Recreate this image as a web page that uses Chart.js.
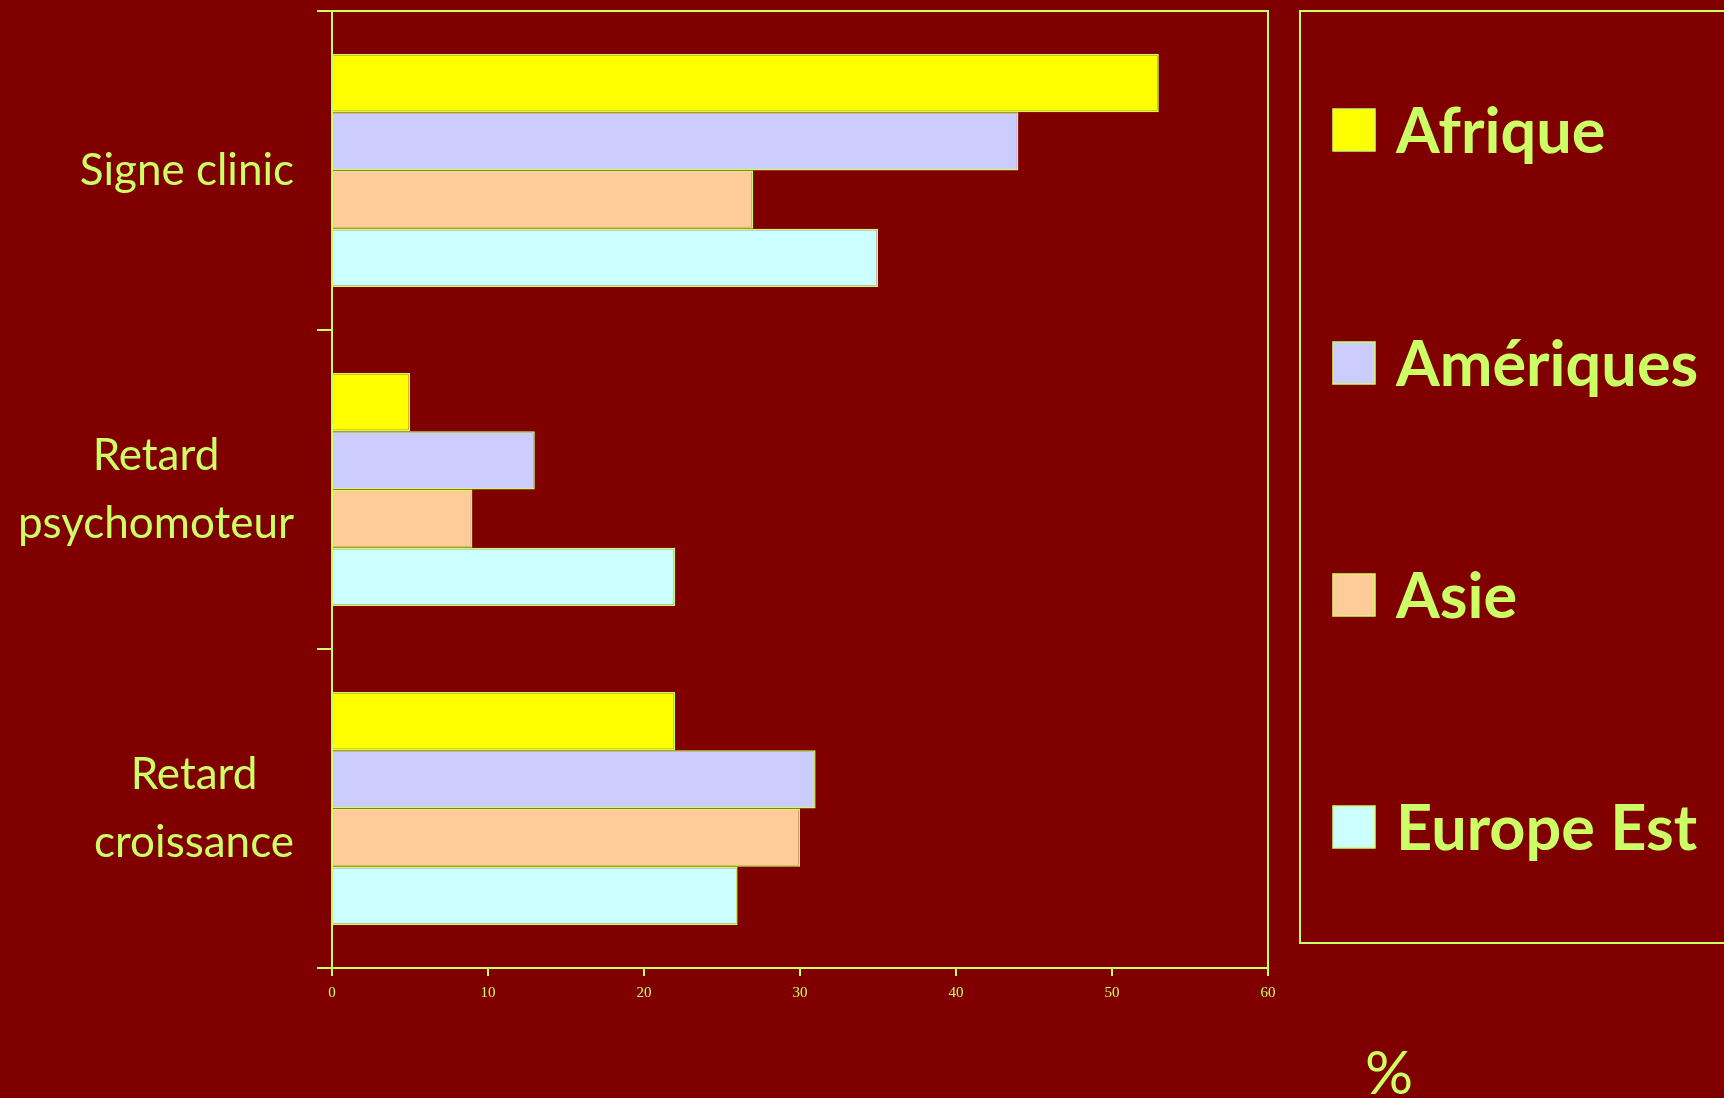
<!DOCTYPE html>
<html>
<head>
<meta charset="utf-8">
<script src="https://cdn.jsdelivr.net/npm/chart.js@4"></script>
<style>
  html, body { margin: 0; padding: 0; background: #800000; }
  #wrap { width: 1724px; height: 1098px; }
</style>
</head>
<body>
<div id="wrap"><canvas id="myChart"></canvas></div>
<script>
const categories = [['Signe clinic'], ['Retard', 'psychomoteur'], ['Retard', 'croissance']];
const regions = ['Afrique', 'Amériques', 'Asie', 'Europe Est'];
const afrique = [53, 5, 22];
const ameriques = [44, 13, 31];
const asie = [27, 9, 30];
const europeEst = [35, 22, 26];
const xTicks = [0, 10, 20, 30, 40, 50, 60];

const ink = '#ccff66';
const fills = ['#ffff00', '#ccccff', '#ffcc99', '#ccffff'];
const comic = '"Comic Sans MS", "Lato", sans-serif';

// frame, category labels, legend box and the % note
const decor = {
  id: 'decor',
  afterDraw(chart) {
    const ctx = chart.ctx;
    const a = chart.chartArea;
    ctx.save();
    ctx.strokeStyle = ink;
    ctx.lineWidth = 2;
    ctx.beginPath();
    ctx.moveTo(a.left, a.top);
    ctx.lineTo(a.right, a.top);
    ctx.lineTo(a.right, a.bottom);
    ctx.stroke();

    // category labels, lines centred inside a right-aligned block
    const yScale = chart.scales.y;
    ctx.fillStyle = ink;
    ctx.font = '44px ' + comic;
    ctx.textBaseline = 'middle';
    ctx.textAlign = 'center';
    categories.forEach((lines, i) => {
      const yc = yScale.getPixelForValue(i);
      const w = Math.max(...lines.map(l => ctx.measureText(l).width));
      const cx = 294 - w / 2;
      const lh = 68;
      lines.forEach((l, j) => {
        ctx.fillText(l, cx, yc + (j - (lines.length - 1) / 2) * lh);
      });
    });

    // legend
    ctx.lineWidth = 2;
    ctx.strokeRect(1300, 11, 500, 932);
    const rows = [130, 363, 595, 827];
    ctx.font = 'bold 63px ' + comic;
    ctx.textAlign = 'left';
    ctx.textBaseline = 'alphabetic';
    chart.data.datasets.forEach((ds, i) => {
      ctx.fillStyle = ds.backgroundColor;
      ctx.fillRect(1333, rows[i] - 21, 42, 42);
      ctx.lineWidth = 1.5;
      ctx.strokeRect(1333, rows[i] - 21, 42, 42);
      ctx.fillStyle = ink;
      ctx.fillText(ds.label, 1396, rows[i] + 23);
    });

    ctx.font = '60px ' + comic;
    ctx.textAlign = 'center';
    ctx.fillText('%', 1389, 1094);
    ctx.restore();
  }
};

const series = [afrique, ameriques, asie, europeEst];

new Chart(document.getElementById('myChart'), {
  type: 'bar',
  data: {
    labels: categories,
    datasets: regions.map((r, i) => ({
      label: r,
      data: series[i],
      backgroundColor: fills[i],
      borderColor: ink,
      borderWidth: 1.5,
      categoryPercentage: 0.73,
      barPercentage: 1.0
    }))
  },
  options: {
    indexAxis: 'y',
    responsive: true,
    maintainAspectRatio: false,
    animation: false,
    layout: { padding: { top: 11, right: 456, left: 0, bottom: 0 } },
    plugins: { legend: { display: false }, tooltip: { enabled: false } },
    scales: {
      x: {
        min: 0,
        max: 60,
        afterBuildTicks: s => { s.ticks = xTicks.map(v => ({ value: v })); },
        afterFit: s => { s.height = 130; },
        border: { color: ink, width: 2 },
        grid: { drawOnChartArea: false, color: ink, tickLength: 8, lineWidth: 2 },
        ticks: {
          color: ink,
          padding: 8,
          font: { family: '"Liberation Serif", serif', size: 15 }
        }
      },
      y: {
        afterFit: s => { s.width = 332; },
        border: { color: ink, width: 2 },
        grid: { drawOnChartArea: false, color: ink, tickLength: 15, lineWidth: 2, offset: true },
        ticks: { display: false }
      }
    }
  },
  plugins: [decor]
});
</script>
</body>
</html>
